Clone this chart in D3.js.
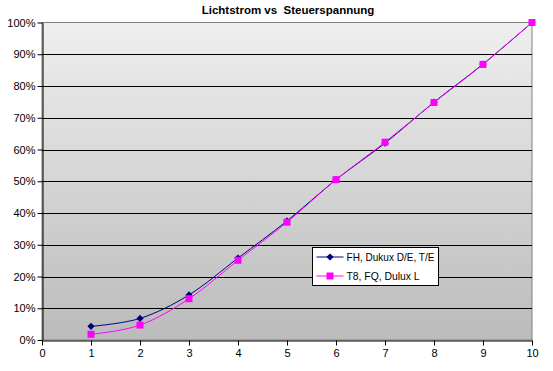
<!DOCTYPE html>
<html>
<head>
<meta charset="utf-8">
<script src="https://cdn.jsdelivr.net/npm/d3@7.9.0/dist/d3.min.js"></script>
<style>
  body { margin: 0; background: #fff; }
  svg { display: block; font-family: "Liberation Sans", Arial, sans-serif; }
</style>
</head>
<body>
<svg id="chart" width="553" height="371"></svg>
<script>
// Daten
const spannung = [1, 2, 3, 4, 5, 6, 7, 8, 9, 10];
const fhDulux = [0.043, 0.068, 0.142, 0.258, 0.375, 0.505, 0.62, 0.749, 0.869, 1.0];
const t8Dulux = [0.018, 0.047, 0.13, 0.251, 0.371, 0.505, 0.623, 0.748, 0.868, 1.0];
const xTicks = [0, 1, 2, 3, 4, 5, 6, 7, 8, 9, 10];
const yTicks = [0, 0.1, 0.2, 0.3, 0.4, 0.5, 0.6, 0.7, 0.8, 0.9, 1.0];
const seriesNames = ['FH, Dukux D/E, T/E', 'T8, FQ, Dulux L'];

const svg = d3.select('#chart');
const plotLeft = 42, plotRight = 532, plotTop = 22.5, plotBottom = 340;

const x = d3.scaleLinear().domain([0, 10]).range([plotLeft, plotRight]);
const y = d3.scaleLinear().domain([0, 1]).range([plotBottom, plotTop]);

// Hintergrund-Verlauf
const grad = svg.append('defs').append('linearGradient')
    .attr('id', 'bg').attr('x1', 0).attr('y1', 0).attr('x2', 0).attr('y2', 1);
grad.append('stop').attr('offset', '0%').attr('stop-color', '#efefef');
grad.append('stop').attr('offset', '100%').attr('stop-color', '#bbbbbb');

svg.append('rect')
   .attr('x', plotLeft).attr('y', plotTop)
   .attr('width', plotRight - plotLeft).attr('height', plotBottom - plotTop)
   .attr('fill', 'url(#bg)')
   .attr('stroke', '#808080');

// Gitterlinien
svg.append('g').selectAll('line')
   .data(yTicks.slice(1, -1))
   .join('line')
   .attr('x1', plotLeft).attr('x2', plotRight)
   .attr('y1', d => Math.round(y(d)) + 0.5).attr('y2', d => Math.round(y(d)) + 0.5)
   .attr('stroke', '#000');

// Achsen
const yAxis = d3.axisLeft(y).tickValues(yTicks).tickFormat(d3.format('.0%')).tickSize(5).tickSizeOuter(0);
const xAxis = d3.axisBottom(x).tickValues(xTicks).tickFormat(d3.format('d')).tickSize(5).tickSizeOuter(0);

const gy = svg.append('g').attr('transform', `translate(${plotLeft + 0.5},0)`).call(yAxis);
const gx = svg.append('g').attr('transform', `translate(0,${plotBottom + 0.5})`).call(xAxis);

[gx, gy].forEach(g => {
    g.select('.domain').attr('stroke', '#000');
    g.selectAll('.tick line').attr('stroke', '#000');
    g.selectAll('.tick text').attr('fill', '#000').attr('font-size', 11).attr('font-family', '"Liberation Sans", Arial, sans-serif');
});
gy.selectAll('.tick text').attr('x', -7);
gx.selectAll('.tick text').attr('y', 9);

// Linien
const line = d3.line()
    .x((d, i) => x(spannung[i]))
    .y(d => y(d))
    .curve(d3.curveCardinal.tension(0));

const series = [
    { name: seriesNames[0], values: fhDulux, color: '#000080', symbol: d3.symbolSquare, size: 26, rotate: 45 },
    { name: seriesNames[1], values: t8Dulux, color: '#ff00ff', symbol: d3.symbolSquare, size: 49, rotate: 0 }
];

series.forEach(s => {
    svg.append('path')
       .datum(s.values)
       .attr('d', line)
       .attr('fill', 'none')
       .attr('stroke', s.color)
       .attr('stroke-width', 1);

    svg.append('g').selectAll('path')
       .data(s.values)
       .join('path')
       .attr('transform', (d, i) => `translate(${x(spannung[i])},${y(d)}) rotate(${s.rotate})`)
       .attr('d', d3.symbol().type(s.symbol).size(s.size))
       .attr('fill', s.color);
});

// Legende
const lg = svg.append('g').attr('transform', 'translate(312.5,247.5)');
lg.append('rect').attr('width', 126).attr('height', 38)
  .attr('fill', '#fff').attr('stroke', '#000');

series.forEach((s, i) => {
    const row = lg.append('g').attr('transform', `translate(0,${9.5 + i * 19})`);
    row.append('line').attr('x1', 4).attr('x2', 31).attr('stroke', s.color);
    row.append('path')
       .attr('transform', `translate(17.5,0) rotate(${s.rotate})`)
       .attr('d', d3.symbol().type(s.symbol).size(s.size))
       .attr('fill', s.color);
    row.append('text').attr('x', 34).attr('y', 4)
       .attr('font-size', 10.5).attr('fill', '#000')
       .attr('textLength', i === 0 ? 88 : 73)
       .attr('lengthAdjust', 'spacingAndGlyphs')
       .text(s.name);
});

// Titel
svg.append('text')
   .attr('x', 288).attr('y', 14)
   .attr('text-anchor', 'middle')
   .attr('font-size', 11.5).attr('font-weight', 'bold')
   .style('white-space', 'pre')
   .text('Lichtstrom vs  Steuerspannung');
</script>
</body>
</html>
